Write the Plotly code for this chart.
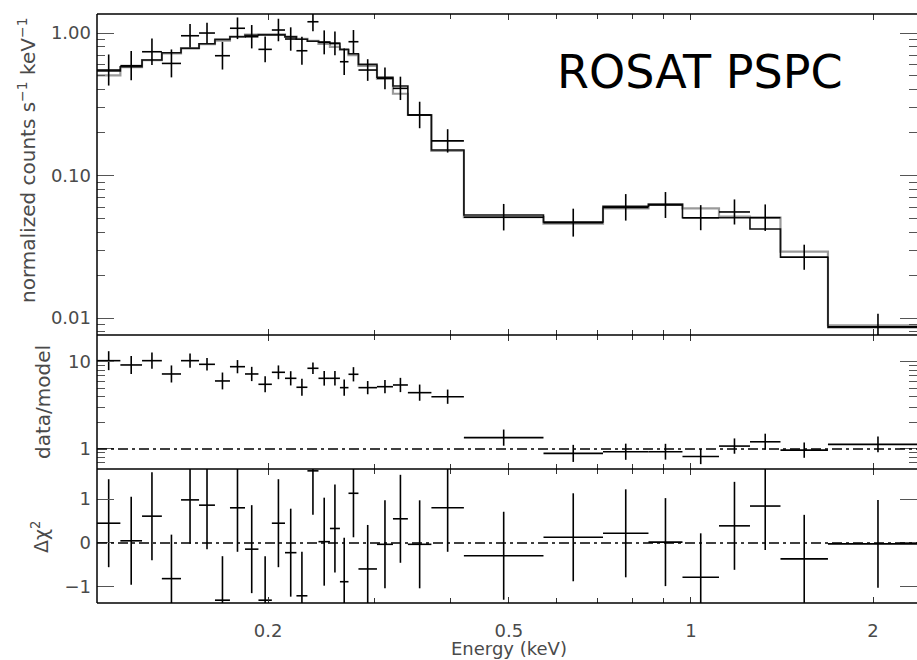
import numpy as np
import plotly.graph_objects as go

# ---------------- data ----------------
# energy bin lower edges (keV); bins are contiguous
e_lo = [0.1043, 0.1140, 0.1238, 0.1335, 0.1436, 0.1538, 0.1634, 0.1730,
        0.1832, 0.1928, 0.2029, 0.2133, 0.2228, 0.2323, 0.2423, 0.2531,
        0.2629, 0.2716, 0.2821, 0.3027, 0.3217, 0.3405, 0.3724, 0.4214,
        0.5705, 0.7155, 0.8507, 0.9682, 1.1125, 1.2518, 1.4059, 1.6843]
e_last_hi = 2.4647

# normalized counts s^-1 keV^-1
counts = [0.550, 0.590, 0.739, 0.612, 0.957, 1.00, 0.693, 1.08,
          0.942, 0.768, 1.05, 0.908, 0.751, 1.20, 0.860, 0.846,
          0.629, 0.869, 0.550, 0.481, 0.409, 0.266, 0.175, 0.0510,
          0.0467, 0.0598, 0.0621, 0.0506, 0.0555, 0.0506, 0.0267, 0.00869]
# error half-widths in dex
err_dex = [0.109, 0.103, 0.093, 0.098, 0.082, 0.072, 0.097, 0.076,
           0.082, 0.091, 0.079, 0.082, 0.098, 0.067, 0.084, 0.084,
           0.093, 0.082, 0.076, 0.076, 0.082, 0.093, 0.082, 0.093,
           0.098, 0.093, 0.091, 0.088, 0.088, 0.093, 0.088, 0.091]

model_black = [0.541, 0.580, 0.646, 0.727, 0.780, 0.840, 0.903, 0.942,
               0.965, 0.970, 0.970, 0.940, 0.905, 0.875, 0.865, 0.846,
               0.770, 0.715, 0.603, 0.489, 0.425, 0.266, 0.151, 0.0528,
               0.0472, 0.0608, 0.0627, 0.0506, 0.0506, 0.0421, 0.0267, 0.0086]
model_grey = [0.505, 0.575, 0.646, 0.720, 0.785, 0.835, 0.885, 0.945,
              0.975, 0.978, 0.978, 0.945, 0.910, 0.880, 0.840, 0.800,
              0.760, 0.700, 0.587, 0.478, 0.375, 0.266, 0.149, 0.0510,
              0.0460, 0.0589, 0.0627, 0.0589, 0.0514, 0.0506, 0.0292, 0.0089]

ratio = [10.35, 9.24, 10.35, 7.28, 10.35, 9.40, 6.05, 8.83,
         7.28, 5.54, 7.61, 6.49, 5.12, 8.46, 6.49, 6.49,
         5.07, 7.22, 5.07, 5.20, 5.44, 4.44, 3.99, 1.35,
         0.89, 0.93, 0.93, 0.82, 1.08, 1.21, 0.97, 1.13]

dchi = [0.45, 0.05, 0.61, -0.81, 0.98, 0.86, -1.30, 0.80,
        -0.14, -1.30, 0.45, -0.22, -1.20, 1.64, 0.03, 0.33,
        -0.88, 1.13, -0.59, -0.03, 0.55, -0.03, 0.80, -0.29,
        0.13, 0.22, 0.02, -0.78, 0.39, 0.84, -0.36, -0.02]
dchi_err = 1.0

x_tickvals = [0.2, 0.5, 1, 2]
x_ticktext = ["0.2", "0.5", "1", "2"]
x_minor = [0.3, 0.4, 0.6, 0.7, 0.8, 0.9]
y1_tickvals = [0.01, 0.1, 1.0]
y1_ticktext = ["0.01", "0.10", "1.00"]
y1_minor = [0.008, 0.009, 0.02, 0.03, 0.04, 0.05, 0.06, 0.07, 0.08, 0.09,
            0.2, 0.3, 0.4, 0.5, 0.6, 0.7, 0.8, 0.9]
y2_tickvals = [1, 10]
y2_ticktext = ["1", "10"]
y2_minor = [0.6, 0.7, 0.8, 0.9, 2, 3, 4, 5, 6, 7, 8, 9, 20]
y3_tickvals = [-1, 0, 1]
y3_ticktext = ["\u22121", "0", "1"]

# ---------------- derived ----------------
lo = np.array(e_lo)
hi = np.array(e_lo[1:] + [e_last_hi])
mid = np.sqrt(lo * hi)
ex_plus = hi - mid
ex_minus = mid - lo
c = np.array(counts)
d = np.array(err_dex)
r = np.array(ratio)
edges = list(lo) + [e_last_hi]

FONT = "DejaVu Sans"
TXT = "#4a4a4a"

fig = go.Figure()

# model step lines
fig.add_trace(go.Scatter(x=edges, y=model_grey + [model_grey[-1]], mode="lines",
                         line=dict(shape="hv", color="#9a9a9a", width=2.2),
                         xaxis="x", yaxis="y", hoverinfo="skip"))
fig.add_trace(go.Scatter(x=edges, y=model_black + [model_black[-1]], mode="lines",
                         line=dict(shape="hv", color="#111111", width=1.6),
                         xaxis="x", yaxis="y", hoverinfo="skip"))

cross_x = dict(type="data", array=ex_plus, arrayminus=ex_minus, visible=True,
               color="black", thickness=1.6, width=0)
marker = dict(size=1, color="rgba(0,0,0,0)")

# data, top panel
fig.add_trace(go.Scatter(x=mid, y=c, mode="markers", marker=marker,
                         error_x=cross_x,
                         error_y=dict(type="data", array=c * (10 ** d - 1),
                                      arrayminus=c * (1 - 10 ** (-d)),
                                      color="black", thickness=1.6, width=0),
                         xaxis="x", yaxis="y"))
# data/model
fig.add_trace(go.Scatter(x=mid, y=r, mode="markers", marker=marker,
                         error_x=cross_x,
                         error_y=dict(type="data", array=r * (10 ** d - 1),
                                      arrayminus=r * (1 - 10 ** (-d)),
                                      color="black", thickness=1.6, width=0),
                         xaxis="x2", yaxis="y2"))
# delta chi
fig.add_trace(go.Scatter(x=mid, y=dchi, mode="markers", marker=marker,
                         error_x=cross_x,
                         error_y=dict(type="constant", value=dchi_err,
                                      color="black", thickness=1.6, width=0),
                         xaxis="x3", yaxis="y3"))

xr = [np.log10(0.1043), 0.3736]
xcommon = dict(type="log", range=xr, showline=False,
               mirror="ticks", ticks="inside", ticklen=6, tickwidth=1.2,
               tickcolor="#333", tickvals=x_tickvals, ticktext=x_ticktext,
               minor=dict(tickvals=x_minor, ticks="inside", ticklen=5,
                          tickwidth=1.2, tickcolor="#333"),
               showgrid=False, zeroline=False,
               tickfont=dict(family=FONT, size=18, color=TXT))

ycommon = dict(showline=False, mirror="ticks", ticks="inside", ticklen=17,
               tickwidth=1.2, tickcolor="#555", showgrid=False, zeroline=False,
               tickfont=dict(family=FONT, size=18, color=TXT), ticklabelstandoff=5)

b1 = 134 / 589
b2 = 268 / 589

fig.update_layout(
    width=917, height=660,
    margin=dict(l=97, r=0, t=14, b=57),
    paper_bgcolor="white", plot_bgcolor="white",
    showlegend=False,
    xaxis=dict(xcommon, anchor="y", showticklabels=False),
    xaxis2=dict(xcommon, anchor="y2", showticklabels=False),
    xaxis3=dict(xcommon, anchor="y3", showticklabels=True, ticklabelstandoff=15),
    yaxis=dict(ycommon, type="log", domain=[b2, 1], anchor="x",
               range=[np.log10(0.0076), np.log10(1.36)],
               tickvals=y1_tickvals, ticktext=y1_ticktext,
               minor=dict(tickvals=y1_minor, ticks="inside", ticklen=8,
                          tickwidth=1.2, tickcolor="#555")),
    yaxis2=dict(ycommon, type="log", domain=[b1, b2], anchor="x2",
                range=[-0.230, 1.310],
                tickvals=y2_tickvals, ticktext=y2_ticktext,
                minor=dict(tickvals=y2_minor, ticks="inside", ticklen=8,
                           tickwidth=1.2, tickcolor="#555")),
    yaxis3=dict(ycommon, type="linear", domain=[0, b1], anchor="x3",
                range=[-1.364, 1.682],
                tickvals=y3_tickvals, ticktext=y3_ticktext),
)

dashdot = "10px,4px,3px,4px"
fig.add_shape(type="line", xref="x2 domain", yref="y2", x0=0, x1=1, y0=1, y1=1,
              line=dict(color="black", width=1.3, dash=dashdot))
fig.add_shape(type="line", xref="x3 domain", yref="y3", x0=0, x1=1, y0=0, y1=0,
              line=dict(color="black", width=1.3, dash=dashdot))
# frame lines (left and horizontal panel borders)
fig.add_shape(type="line", xref="paper", yref="paper", x0=0, x1=0, y0=0, y1=1,
              line=dict(color="black", width=1.5))
for yb in [0, b1, b2, 1]:
    fig.add_shape(type="line", xref="paper", yref="paper", x0=0, x1=1, y0=yb, y1=yb,
                  line=dict(color="black", width=1.5))

fig.add_annotation(text="ROSAT PSPC", xref="paper", yref="paper",
                   x=(699.5 - 97) / 820, y=(603 - 72) / 589,
                   xanchor="center", yanchor="middle", showarrow=False,
                   font=dict(family=FONT, size=46, color="black"))
fig.add_annotation(text="normalized counts s<sup>\u22121</sup> keV<sup>\u22121</sup>",
                   xref="paper", yref="paper", x=(27 - 97) / 820, y=(603 - 160) / 589,
                   textangle=-90, xanchor="center", yanchor="middle", showarrow=False,
                   font=dict(family=FONT, size=20, color=TXT))
fig.add_annotation(text="data/model", xref="paper", yref="paper",
                   x=(43 - 97) / 820, y=(603 - 402) / 589,
                   textangle=-90, xanchor="center", yanchor="middle", showarrow=False,
                   font=dict(family=FONT, size=20, color=TXT))
fig.add_annotation(text="\u0394\u03c7<sup>2</sup>", xref="paper", yref="paper",
                   x=(40 - 97) / 820, y=(603 - 537) / 589,
                   textangle=-90, xanchor="center", yanchor="middle", showarrow=False,
                   font=dict(family=FONT, size=19, color=TXT))
fig.add_annotation(text="Energy (keV)", xref="paper", yref="paper",
                   x=(509 - 97) / 820, y=(603 - 660) / 589,
                   xanchor="center", yanchor="bottom", showarrow=False, borderpad=0,
                   font=dict(family=FONT, size=18, color=TXT))

fig.write_html("out.html")
